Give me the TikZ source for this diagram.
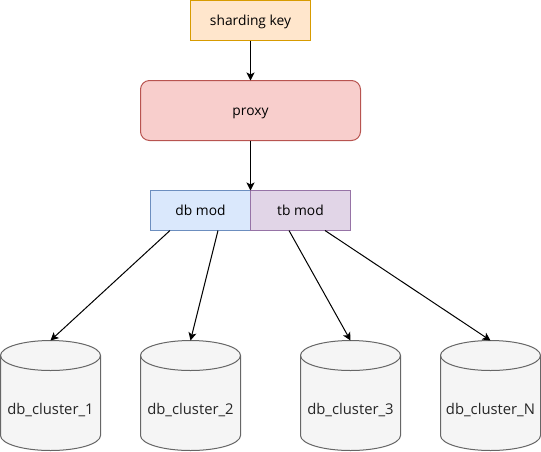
\documentclass[tikz,border=0pt]{standalone}
\usepackage{fontspec}
\setmainfont{Open Sans}
\usetikzlibrary{arrows.meta,calc}
\definecolor{orF}{HTML}{FFE6CC}\definecolor{orD}{HTML}{D79B00}
\definecolor{reF}{HTML}{F8CECC}\definecolor{reD}{HTML}{B85450}
\definecolor{blF}{HTML}{DAE8FC}\definecolor{blD}{HTML}{6C8EBF}
\definecolor{puF}{HTML}{E1D5E7}\definecolor{puD}{HTML}{9673A6}
\definecolor{grF}{HTML}{F5F5F5}\definecolor{grD}{HTML}{666666}
\tikzset{
 box/.style={draw,line width=1pt,inner sep=0pt,outer sep=0pt,anchor=north west,text height=10pt,text depth=0pt,font=\fontsize{13.8}{16}\selectfont,text=black},
 dbbody/.style={draw=grD,fill=grF,line width=1pt},
 dblabel/.style={inner sep=0pt,outer sep=0pt,text height=10pt,text depth=0pt,font=\fontsize{14.8}{16}\selectfont,text=black!85},
 conn/.style={draw=black,line width=1pt,-{Stealth[length=8pt,width=8pt,inset=2pt]}},
}
\newcommand{\dbcylinder}[3]{%
 \path[dbbody] (#1-50,355.5) arc[start angle=180,end angle=360,x radius=50,y radius=15]
   -- (#1+50,435.5) arc[start angle=0,end angle=180,x radius=50,y radius=15] -- cycle;
 \path[dbbody,fill=none] (#1-50,355.5) arc[start angle=180,end angle=0,x radius=50,y radius=15];
 \coordinate (#2t) at (#1,340.5);
 \node[dblabel] (#2) at (#1,409.5) {#3};
}
\begin{document}
\begin{tikzpicture}[x=1pt,y=-1pt]
\useasboundingbox (0,0) rectangle (541,451);
\node[box,draw=orD,fill=orF,minimum width=120pt,minimum height=40pt] (key) at (190.5,0.5) {sharding key};
\node[box,draw=reD,fill=reF,rounded corners=9pt,minimum width=220pt,minimum height=60pt] (proxy) at (140.5,80.5) {proxy};
\node[box,draw=blD,fill=blF,minimum width=100pt,minimum height=40pt] (db) at (150.5,190.5) {db mod};
\node[box,draw=puD,fill=puF,minimum width=100pt,minimum height=40pt] (tb) at (250.5,190.5) {tb mod};
\dbcylinder{50.5}{c1}{db\_cluster\_1}
\dbcylinder{190.5}{c2}{db\_cluster\_2}
\dbcylinder{350.5}{c3}{db\_cluster\_3}
\dbcylinder{490.5}{c4}{db\_cluster\_N}
\coordinate (d1) at ($(db.south west)+(19.5,0)$);
\coordinate (d2) at ($(db.south west)+(67.5,0)$);
\coordinate (t1) at ($(tb.south west)+(38.5,0)$);
\coordinate (t2) at ($(tb.south west)+(74.5,0)$);
\draw[conn] (key.south) -- (proxy.north);
\draw[conn] (proxy.south) -- (db.north east);
\draw[conn] (d1) -- (c1t);
\draw[conn] (d2) -- (c2t);
\draw[conn] (t1) -- (c3t);
\draw[conn] (t2) -- (c4t);
\end{tikzpicture}
\end{document}
